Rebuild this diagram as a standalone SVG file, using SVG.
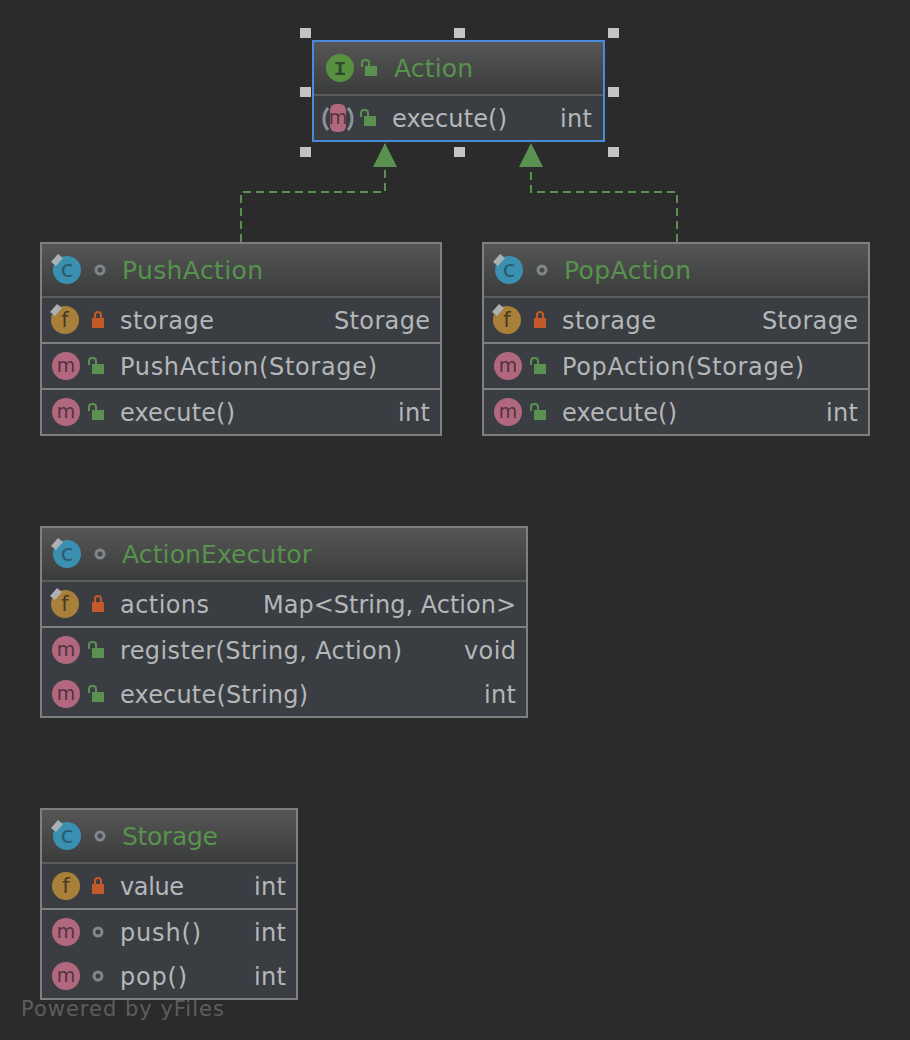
<svg xmlns="http://www.w3.org/2000/svg" width="910" height="1040" viewBox="0 0 910 1040">
<style>
text{font-family:"DejaVu Sans",sans-serif}
.box{fill:#3a3d41;stroke:#7d7f80;stroke-width:2}
.hd{fill:url(#hg)}
.div{stroke:#7d7f80;stroke-width:2}
.divh{stroke:#5b5c5c;stroke-width:2}
.t{font-size:24px;fill:#b4b7ba}
.r{font-size:24px;fill:#b4b7ba;text-anchor:end}
.n{font-size:25px;fill:#57934d}
.g{fill:#3a3d41;text-anchor:middle}
.h{fill:#c4c4c4}
.tag{fill:#aab0b4}
.e{fill:none;stroke:#5b9150;stroke-width:2;stroke-dasharray:8 5}
</style>
<defs>
<linearGradient id="hg" x1="0" y1="0" x2="0" y2="1"><stop offset="0" stop-color="#555655"/><stop offset="1" stop-color="#3a3b3b"/></linearGradient>
<marker id="tri" markerUnits="userSpaceOnUse" markerWidth="24" markerHeight="24" refX="24" refY="12" orient="auto" viewBox="0 0 24 24"><path d="M24 12L0 0V24Z" fill="#5b9150"/></marker>
<g id="c"><circle r="14" fill="#3b8fb0"/><path d="M-16-8l7-8 5 4-7 8z" class="tag"/><text class="g" y="7" style="fill:#2c5a70;font-size:23px">c</text></g>
<g id="f"><circle r="14" fill="#a9803a"/><text class="g" y="7" style="fill:#4a3a20;font-size:21px">f</text></g>
<g id="m"><circle r="14" fill="#b1687f"/><text class="g" y="6" style="fill:#50343d;font-size:19px">m</text></g>
<g id="pub"><path d="M-7-2v-4q0-3 3-3h1q3 0 3 3v3" fill="none" stroke="#5b9150" stroke-width="2"/><rect x="-4" y="-3" width="12" height="10" fill="#5b9150"/></g>
<g id="pri"><path d="M-3-2v-3q0-3 3-3t3 3v3" fill="none" stroke="#c45a2a" stroke-width="2"/><rect x="-6" y="-2" width="12" height="10" fill="#c45a2a"/></g>
<circle id="pkg" r="4" fill="none" stroke="#7f868c" stroke-width="3"/>
</defs>
<rect width="910" height="1040" fill="#2b2b2b"/>
<g id="connectors">
<path class="e" d="M241 242V192H385V143" marker-end="url(#tri)"/>
<path class="e" d="M677 242V192H531V143" marker-end="url(#tri)"/>
</g>
<g id="node-action">
<rect class="box" x="313" y="41" width="291" height="100" style="stroke:#4a8ad8"/>
<rect class="hd" x="314" y="42" width="289" height="53"/>
<line class="divh" x1="314" y1="95" x2="603" y2="95"/>
<circle cx="340" cy="68" r="14" fill="#57913f"/><text class="g" x="340" y="75" style="font-family:'Liberation Mono',monospace;fill:#2f4a2a;font-size:21px;font-weight:bold">I</text>
<use href="#pub" x="369" y="69"/>
<text class="n" x="394" y="77" textLength="79">Action</text>
<path d="M328 108a17 17 0 0 0 0 22M348 108a17 17 0 0 1 0 22" fill="none" stroke="#8a9298" stroke-width="3"/>
<rect x="330" y="104" width="16" height="28" rx="6" fill="#b1687f"/><text class="g" x="338" y="124" style="fill:#50343d;font-size:19px">m</text>
<use href="#pub" x="368" y="119"/>
<text class="t" x="392" y="127" textLength="115">execute()</text><text class="r" x="592" y="127" textLength="32">int</text>
</g>
<g id="selection-handles">
<rect class="h" x="300" y="28" width="11" height="10"/><rect class="h" x="454" y="28" width="11" height="10"/><rect class="h" x="608" y="28" width="11" height="10"/>
<rect class="h" x="300" y="87" width="11" height="10"/><rect class="h" x="608" y="87" width="11" height="10"/>
<rect class="h" x="300" y="147" width="11" height="10"/><rect class="h" x="454" y="147" width="11" height="10"/><rect class="h" x="608" y="147" width="11" height="10"/>
</g>
<g id="node-pushaction">
<rect class="box" x="41" y="243" width="400" height="192"/>
<rect class="hd" x="42" y="244" width="398" height="53"/>
<line class="divh" x1="42" y1="297" x2="440" y2="297"/><line class="div" x1="42" y1="343" x2="440" y2="343"/><line class="div" x1="42" y1="389" x2="440" y2="389"/>
<use href="#c" x="67" y="270"/><use href="#pkg" x="100" y="270"/>
<text class="n" x="122" y="279" textLength="141">PushAction</text>
<use href="#f" x="65" y="320"/><path d="M50 312l7-8 5 4-7 8z" class="tag"/><use href="#pri" x="98" y="320"/>
<text class="t" x="120" y="329" textLength="94">storage</text><text class="r" x="430" y="329" textLength="96">Storage</text>
<use href="#m" x="66" y="366"/><use href="#pub" x="96" y="367"/>
<text class="t" x="120" y="375" textLength="257">PushAction(Storage)</text>
<use href="#m" x="66" y="412"/><use href="#pub" x="96" y="413"/>
<text class="t" x="120" y="421" textLength="115">execute()</text><text class="r" x="430" y="421" textLength="32">int</text>
</g>
<g id="node-popaction">
<rect class="box" x="483" y="243" width="386" height="192"/>
<rect class="hd" x="484" y="244" width="384" height="53"/>
<line class="divh" x1="484" y1="297" x2="868" y2="297"/><line class="div" x1="484" y1="343" x2="868" y2="343"/><line class="div" x1="484" y1="389" x2="868" y2="389"/>
<use href="#c" x="509" y="270"/><use href="#pkg" x="542" y="270"/>
<text class="n" x="564" y="279" textLength="127">PopAction</text>
<use href="#f" x="507" y="320"/><path d="M492 312l7-8 5 4-7 8z" class="tag"/><use href="#pri" x="540" y="320"/>
<text class="t" x="562" y="329" textLength="94">storage</text><text class="r" x="858" y="329" textLength="96">Storage</text>
<use href="#m" x="508" y="366"/><use href="#pub" x="538" y="367"/>
<text class="t" x="562" y="375" textLength="242">PopAction(Storage)</text>
<use href="#m" x="508" y="412"/><use href="#pub" x="538" y="413"/>
<text class="t" x="562" y="421" textLength="115">execute()</text><text class="r" x="858" y="421" textLength="32">int</text>
</g>
<g id="node-actionexecutor">
<rect class="box" x="41" y="527" width="486" height="190"/>
<rect class="hd" x="42" y="528" width="484" height="53"/>
<line class="divh" x1="42" y1="581" x2="526" y2="581"/><line class="div" x1="42" y1="627" x2="526" y2="627"/>
<use href="#c" x="67" y="554"/><use href="#pkg" x="100" y="554"/>
<text class="n" x="122" y="563" textLength="190">ActionExecutor</text>
<use href="#f" x="65" y="604"/><path d="M50 596l7-8 5 4-7 8z" class="tag"/><use href="#pri" x="98" y="604"/>
<text class="t" x="120" y="613" textLength="89">actions</text><text class="r" x="516" y="613" textLength="253">Map&lt;String, Action&gt;</text>
<use href="#m" x="66" y="650"/><use href="#pub" x="96" y="651"/>
<text class="t" x="120" y="659" textLength="282">register(String, Action)</text><text class="r" x="516" y="659" textLength="52">void</text>
<use href="#m" x="66" y="694"/><use href="#pub" x="96" y="695"/>
<text class="t" x="120" y="703" textLength="188">execute(String)</text><text class="r" x="516" y="703" textLength="32">int</text>
</g>
<g id="node-storage">
<rect class="box" x="41" y="809" width="256" height="190"/>
<rect class="hd" x="42" y="810" width="254" height="53"/>
<line class="divh" x1="42" y1="863" x2="296" y2="863"/><line class="div" x1="42" y1="909" x2="296" y2="909"/>
<use href="#c" x="67" y="836"/><use href="#pkg" x="100" y="836"/>
<text class="n" x="122" y="845" textLength="96">Storage</text>
<use href="#f" x="66" y="886"/><use href="#pri" x="98" y="886"/>
<text class="t" x="120" y="895" textLength="64">value</text><text class="r" x="286" y="895" textLength="32">int</text>
<use href="#m" x="66" y="932"/><use href="#pkg" x="98" y="932"/>
<text class="t" x="120" y="941" textLength="81">push()</text><text class="r" x="286" y="941" textLength="32">int</text>
<use href="#m" x="66" y="976"/><use href="#pkg" x="98" y="976"/>
<text class="t" x="120" y="985" textLength="67">pop()</text><text class="r" x="286" y="985" textLength="32">int</text>
</g>
<text x="21" y="1016" style="font-size:21px;letter-spacing:1px;fill:#5c5e5e">Powered by yFiles</text>
</svg>
